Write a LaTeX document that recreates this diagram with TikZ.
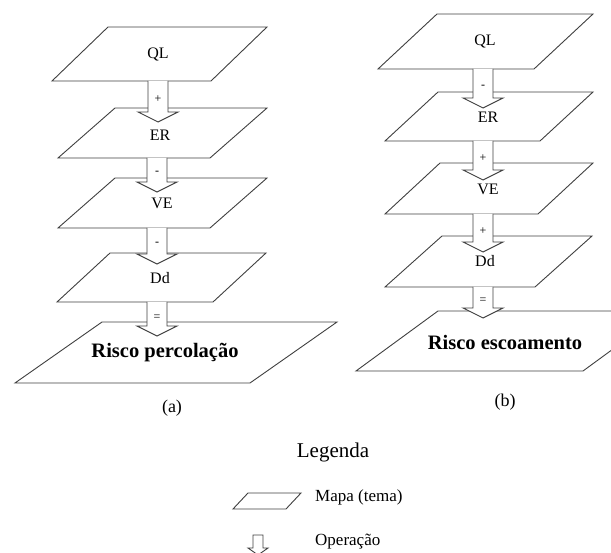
\documentclass[tikz,border=0pt]{standalone}
\usepackage{fontspec}
\setmainfont{Liberation Serif}
\usetikzlibrary{calc}

\tikzset{
  mapa/.style={draw=black!75, fill=white, line width=0.9pt, line join=miter},
  seta/.style={draw=black!75, fill=white, line width=0.9pt, line join=miter},
  rotulo/.style={inner sep=0pt, font=\fontsize{16}{18}\selectfont},
  titulo/.style={inner sep=0pt, font=\bfseries\fontsize{20.5}{22}\selectfont},
  sinal/.style={inner sep=0pt, font=\fontsize{12}{12}\selectfont},
  legenda/.style={inner sep=0pt, font=\fontsize{21}{23}\selectfont},
  textoleg/.style={inner sep=0pt, anchor=west, font=\fontsize{17}{19}\selectfont},
}

% seta de bloco entre dois pontos com nome
\newcommand{\operacao}[3]{%
  \draw[seta] let \p1=(#1), \p2=(#2) in
    (\x1-10pt,\y1) -- (\x1-10pt,\y2+10pt) -- (\x1-20pt,\y2+10pt) -- (\x1,\y2)
    -- (\x1+20pt,\y2+10pt) -- (\x1+10pt,\y2+10pt) -- (\x1+10pt,\y1);
  \node[sinal] at ($(#1)!0.45!(#2)$) {#3};
}

\begin{document}
\begin{tikzpicture}[x=1pt,y=-1pt]
            \clip (0,0) rectangle (611,553);

            % (a)
            \draw[mapa] (108,27) -- ++(159,0) -- ++(-56,54) -- ++(-159,0) -- cycle;
            \node[rotulo] (qlA) at (158,55) {QL};
            \draw[mapa] (115,108) -- ++(152,0) -- ++(-57,50) -- ++(-152,0) -- cycle;
            \node[rotulo] (erA) at (160,135) {ER};
            \draw[mapa] (115,178) -- ++(152,0) -- ++(-57,50) -- ++(-152,0) -- cycle;
            \node[rotulo] (veA) at (162,203) {VE};
            \draw[mapa] (110,253) -- ++(156,0) -- ++(-53,49) -- ++(-156,0) -- cycle;
            \node[rotulo] (ddA) at (160,278) {Dd};
            \draw[mapa] (102,322) -- ++(235,0) -- ++(-87,61) -- ++(-235,0) -- cycle;
            \node[titulo] (riscoA) at (165,353) {Risco percolação};

            \coordinate (qlA-s) at (158,81);    \coordinate (erA-n) at (158,122);
            \coordinate (erA-s) at (157,158);   \coordinate (veA-n) at (157,192);
            \coordinate (veA-s) at (157,228);   \coordinate (ddA-n) at (157,264);
            \coordinate (ddA-s) at (157,302);   \coordinate (riscoA-n) at (157,336);

            \operacao{qlA-s}{erA-n}{+}
            \operacao{erA-s}{veA-n}{-}
            \operacao{veA-s}{ddA-n}{-}
            \operacao{ddA-s}{riscoA-n}{=}

            \node[rotulo, font=\fontsize{18}{20}\selectfont] (capA) at (172,408) {(a)};

            % (b)
            \draw[mapa] (437,14) -- ++(156,0) -- ++(-59,55) -- ++(-156,0) -- cycle;
            \node[rotulo] (qlB) at (485,42) {QL};
            \draw[mapa] (438,92) -- ++(155,0) -- ++(-53,49) -- ++(-155,0) -- cycle;
            \node[rotulo] (erB) at (488,117) {ER};
            \draw[mapa] (440,163) -- ++(153,0) -- ++(-55,51) -- ++(-153,0) -- cycle;
            \node[rotulo] (veB) at (488,189) {VE};
            \draw[mapa] (442,236) -- ++(150,0) -- ++(-57,51) -- ++(-150,0) -- cycle;
            \node[rotulo] (ddB) at (485,261) {Dd};
            \draw[mapa] (438,311) -- ++(227,0) -- ++(-82,60) -- ++(-227,0) -- cycle;
            \node[titulo] (riscoB) at (505,342) {Risco escoamento};

            \coordinate (qlB-s) at (483,69);    \coordinate (erB-n) at (483,108);
            \coordinate (erB-s) at (483,141);   \coordinate (veB-n) at (483,180);
            \coordinate (veB-s) at (483,214);   \coordinate (ddB-n) at (483,252);
            \coordinate (ddB-s) at (483,287);   \coordinate (riscoB-n) at (483,318);

            \operacao{qlB-s}{erB-n}{-}
            \operacao{erB-s}{veB-n}{+}
            \operacao{veB-s}{ddB-n}{+}
            \operacao{ddB-s}{riscoB-n}{=}

            \node[rotulo, font=\fontsize{18}{20}\selectfont] (capB) at (505,402) {(b)};

            % Legenda
            \node[legenda] (leg) at (333,452) {Legenda};
            \draw[mapa] (248,493) -- ++(53,0) -- ++(-15,16) -- ++(-53,0) -- cycle;
            \node[textoleg] (legMapa) at (315,497) {Mapa (tema)};
            \draw[seta] (253,535) -- (253,548) -- (248,548) -- (258,555) -- (268,548) -- (263,548) -- (263,535) -- cycle;
            \node[textoleg] (legOper) at (315,542) {Operação};
\end{tikzpicture}
\end{document}
